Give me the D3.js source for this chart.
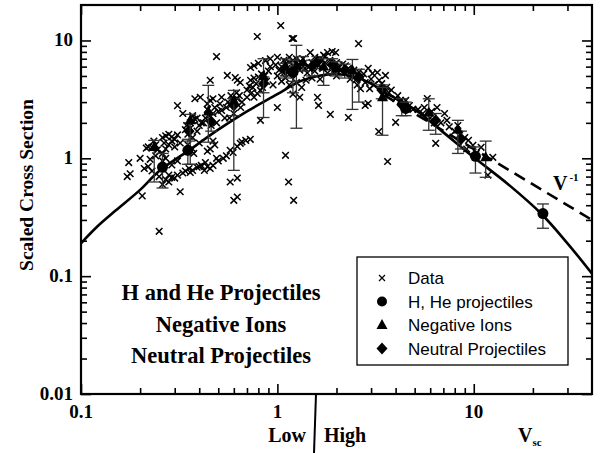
<!DOCTYPE html>
<html>
<head>
<meta charset="utf-8">
<script src="https://cdn.jsdelivr.net/npm/d3@7"></script>
<style>
    body { margin: 0; background: #fff; }
    svg text { font-family: "Liberation Serif", "Times New Roman", serif; font-weight: bold; fill: #000; }
    svg .legend text { font-family: "Liberation Sans", Arial, sans-serif; font-weight: normal; }
</style>
</head>
<body>
<svg id="chart" width="600" height="453"></svg>
<script>
// Data (V_sc, scaled cross section)
const dataPoints = [
    [0.175,0.92],[0.172,0.70],[0.178,0.74],[0.205,0.48],[0.25,0.24],
    [0.21,0.82],[0.22,0.85],[0.23,0.78],[0.2,1.0],
    [0.22,1.25],[0.215,1.22],[0.23,1.24],[0.24,1.3],[0.235,1.4],[0.245,1.18],[0.24,1.05],[0.225,0.98],
    [0.26,1.5],[0.27,1.55],[0.28,1.6],[0.29,1.52],[0.31,1.58],[0.3,1.45],[0.265,1.35],[0.28,1.3],
    [0.29,1.4],[0.27,1.2],[0.26,1.1],[0.3,1.25],[0.32,1.35],
    [0.31,2.8],[0.32,0.52],
    [0.28,0.72],[0.29,0.69],[0.30,0.68],[0.31,0.72],[0.27,0.66],[0.28,0.63],[0.26,0.6],[0.33,0.75],
    [0.26,0.95],[0.27,1.0],[0.29,0.88],[0.31,0.95],[0.25,0.7],
    [0.345,1.9],[0.36,2.0],[0.37,2.1],[0.38,2.15],[0.39,2.2],[0.35,1.6],[0.37,1.5],[0.34,1.75],
    [0.4,1.9],[0.41,2.0],[0.36,1.8],[0.39,1.7],
    [0.37,1.2],[0.375,1.1],[0.35,1.3],[0.4,1.35],
    [0.34,0.78],[0.355,0.82],[0.37,0.79],[0.39,0.84],[0.40,0.85],[0.41,0.87],[0.36,0.76],
    [0.38,3.2],[0.405,3.3],[0.37,2.3],[0.33,2.4],
    [0.44,2.9],[0.455,3.1],[0.47,3.2],[0.49,7.3],[0.455,4.6],
    [0.47,1.4],[0.455,1.2],[0.44,1.15],[0.48,1.3],
    [0.47,0.87],[0.455,0.82],[0.44,0.85],[0.425,0.79],[0.43,0.92],[0.5,0.95],[0.49,1.0],
    [0.45,2.3],[0.47,2.4],[0.43,2.2],[0.48,2.7],[0.5,2.5],[0.44,2.6],[0.46,1.9],[0.49,2.0],
    [0.51,2.9],[0.42,2.0],[0.52,3.3],
    [0.52,2.55],[0.55,2.7],[0.575,2.8],[0.60,3.1],[0.625,3.2],[0.56,3.0],[0.58,3.4],[0.62,3.6],
    [0.64,3.4],[0.66,3.0],[0.54,2.2],[0.6,2.4],[0.57,2.2],[0.65,2.7],
    [0.556,5.05],[0.625,4.6],[0.61,4.85],[0.647,4.4],
    [0.575,0.63],[0.625,0.68],[0.60,0.44],[0.625,0.47],
    [0.575,1.17],[0.595,1.12],[0.625,1.26],[0.647,1.34],[0.66,1.38],[0.69,1.42],[0.55,1.05],[0.53,1.0],
    [0.73,5.9],[0.76,6.1],[0.8,6.4],[0.79,10.8],[0.76,3.3],[0.79,3.55],[0.82,3.77],[0.82,2.1],
    [0.73,4.6],[0.76,4.8],[0.728,1.45],
    [0.7,3.8],[0.72,4.1],[0.75,4.0],[0.78,4.3],[0.8,4.9],[0.83,5.2],[0.86,5.0],[0.88,4.5],[0.9,5.5],
    [0.84,4.0],[0.7,3.3],[0.74,3.6],[0.92,6.0],[0.87,6.75],[0.92,7.0],[0.95,4.2],
    [1.0,7.2],[1.04,13.4],[1.19,10.4],[1.21,10.4],[1.1,1.06],[1.14,0.63],[1.21,0.44],[1.0,2.7],
    [1.0,5.0],[1.02,5.6],[1.05,6.0],[1.08,5.3],[1.1,6.3],[1.12,5.8],[1.15,6.5],[1.18,5.5],[1.2,6.8],
    [1.22,6.0],[1.25,7.0],[1.28,6.2],[1.3,5.6],[1.32,6.6],[1.35,7.0],[1.38,5.8],
    [1.05,4.5],[1.1,4.8],[1.15,4.2],[1.25,4.4],[1.3,3.3],[1.2,3.5],[1.33,4.0],[1.4,4.6],
    [1.08,6.8],[1.15,7.2],[0.98,6.2],
    [1.47,7.9],[1.72,7.5],[1.8,7.9],[1.9,8.05],[1.98,7.9],[1.6,3.29],[1.62,2.81],[1.86,2.36],
    [1.45,6.0],[1.5,6.5],[1.55,5.5],[1.6,6.2],[1.65,7.0],[1.7,5.8],[1.75,6.5],[1.8,5.3],[1.85,6.8],
    [1.9,6.0],[1.95,5.5],[2.0,6.5],[2.05,6.0],[2.1,5.6],[2.15,6.3],[1.5,4.8],[1.65,4.7],[1.55,7.2],
    [1.42,5.3],[2.0,5.0],[1.75,7.3],
    [2.59,9.4],[2.3,2.22],[2.8,2.81],[2.9,2.92],
    [2.22,6.1],[2.3,5.8],[2.9,5.8],[3.05,5.25],
    [2.4,5.0],[2.5,4.6],[2.6,5.4],[2.7,4.8],[2.55,4.2],[2.45,5.6],[2.8,4.4],[2.65,3.9],[2.35,4.7],
    [2.75,5.2],[3.0,4.7],[3.1,4.2],[2.95,3.9],
    [3.23,5.35],[3.55,5.05],[3.28,1.69],[3.64,0.94],[4.0,2.02],[3.4,4.3],[3.6,4.0],[3.7,3.6],[3.8,3.8],
    [4.0,3.22],[4.24,3.1],[4.1,3.4],[4.5,3.1],[4.7,2.8],[4.9,2.6],[3.5,3.6],[4.4,2.9],[3.3,4.6],
    [5.8,3.22],[6.5,2.7],[7.1,2.4],[6.4,1.34],[9.4,1.42],[9.9,1.29],[10.9,1.24],[12.5,1.02],[11.8,0.72],
    [5.2,2.6],[5.5,2.4],[6.0,2.2],[6.3,2.0],[6.8,2.0],[7.5,1.85],[8.0,1.7],[8.5,1.6],[9.0,1.5],
    [7.3,2.1],[5.6,2.7],[6.1,2.5],[8.3,1.9],[9.2,1.2],[10.3,1.1]
];

// [V_sc, value, error low, error high]
const hHeProjectiles = [
    [0.26,0.84,0.56,1.1],[0.35,1.17,0.89,1.45],[1.2,5.4,3.6,6.8],
    [4.5,2.65,2.3,3.0],[10.2,1.04,0.75,1.25],[22.5,0.34,0.255,0.41]
];
const negativeIons = [
    [0.236,1.25,0.63,1.42],[0.36,2.1,0.89,2.36],[0.445,2.5,1.37,4.16],[0.6,3.1,0.79,3.77],
    [0.85,5.0,2.22,7.0],[1.25,6.2,1.8,9.1],[1.72,6.0,4.16,7.0],[2.41,5.6,2.6,6.9],
    [3.43,3.3,1.57,4.0],[5.9,2.45,1.73,3.2],[8.3,1.76,1.1,2.1],[11.5,1.02,0.69,1.4],
    [1.1,6.0,5.0,7.0],[1.35,6.5,5.5,7.3],[2.0,5.8,5.0,6.6]
];
const neutralProjectiles = [
    [0.355,1.7,1.4,2.0],[0.46,2.05,1.7,2.4],[0.6,2.8,2.3,3.2],[0.85,4.3,3.6,4.9],
    [1.1,5.6,4.8,6.4],[1.5,6.0,5.0,6.8],[1.9,6.2,5.2,7.0],[2.6,4.9,3.0,5.7],
    [3.4,3.8,3.2,4.2],[4.3,2.85,2.3,3.2],[6.4,2.1,1.6,2.4],[8.6,1.45,1.2,1.7],
    [1.2,5.2,4.5,6.0],[1.6,6.6,5.8,7.3],[2.2,5.6,4.8,6.3]
];

// fitted curve
const curveV = [0.1,0.12,0.15,0.2,0.25,0.35,0.5,0.7,1.0,1.3,1.66,2.0,2.5,3.0,3.5,5,7,10,15,22,30,40];
const curveS = [0.19,0.26,0.36,0.54,0.78,1.15,1.75,2.5,3.5,4.5,5.05,5.2,4.9,4.3,3.65,2.6,1.66,1.02,0.6,0.34,0.19,0.105];
// V^-1 asymptote
const asymV = [3.5, 40];
const asymS = [3.43, 0.3];

const xMajor = [0.1, 1, 10];
const xMinor = [0.2,0.3,0.4,0.5,0.6,0.7,0.8,0.9,2,3,4,5,6,7,8,9,20,30];
const yMajor = [0.01, 0.1, 1, 10];
const yMinor = [0.02,0.03,0.04,0.05,0.06,0.07,0.08,0.09,0.2,0.3,0.4,0.5,0.6,0.7,0.8,0.9,2,3,4,5,6,7,8,9];
const xLabels = ["0.1", "1", "10"];
const yLabels = ["0.01", "0.1", "1", "10"];

const legendLabels = ["Data", "H, He projectiles", "Negative Ions", "Neutral Projectiles"];
const boxLines = ["H and He Projectiles", "Negative Ions", "Neutral Projectiles"];

const margin = {top: 5, right: 8, bottom: 59, left: 81};
const W = 600, H = 453;
const svg = d3.select("#chart");

const x = d3.scaleLog().domain([0.1, 40]).range([margin.left, W - margin.right]);
const y = d3.scaleLog().domain([0.01, 20]).range([H - margin.bottom, margin.top]);

const crossPath = "M-3.3,-3.3L3.3,3.3M-3.3,3.3L3.3,-3.3";
const trianglePath = "M0,-6L5.5,4L-5.5,4Z";
const diamondPath = "M0,-6L5.5,0L0,6L-5.5,0Z";

// ticks (all pointing inward)
function ticks(axisFn, vals, len, transform) {
    const g = svg.append("g")
        .attr("transform", transform)
        .call(axisFn.tickValues(vals).tickSize(-len).tickFormat(""));
    g.select(".domain").remove();
    g.selectAll("line").attr("stroke", "#000").attr("stroke-width", 1.6);
}
const bottomY = H - margin.bottom, rightX = W - margin.right;
ticks(d3.axisBottom(x), xMajor, 10, `translate(0,${bottomY})`);
ticks(d3.axisBottom(x), xMinor, 6, `translate(0,${bottomY})`);
ticks(d3.axisTop(x), xMajor, 10, `translate(0,${margin.top})`);
ticks(d3.axisTop(x), xMinor, 6, `translate(0,${margin.top})`);
ticks(d3.axisLeft(y), yMajor, 10, `translate(${margin.left},0)`);
ticks(d3.axisLeft(y), yMinor, 6, `translate(${margin.left},0)`);
ticks(d3.axisRight(y), yMajor, 10, `translate(${rightX},0)`);
ticks(d3.axisRight(y), yMinor, 6, `translate(${rightX},0)`);

// frame
svg.append("rect")
    .attr("x", margin.left).attr("y", margin.top)
    .attr("width", rightX - margin.left).attr("height", bottomY - margin.top)
    .attr("fill", "none").attr("stroke", "#000").attr("stroke-width", 2.2);

// tick labels
svg.append("g").selectAll("text")
    .data(xMajor)
    .join("text")
    .attr("x", d => x(d)).attr("y", bottomY + 24)
    .attr("text-anchor", "middle").attr("font-size", 19)
    .text((d, i) => xLabels[i]);
svg.append("g").selectAll("text")
    .data(yMajor)
    .join("text")
    .attr("x", margin.left - 8).attr("y", d => y(d) + 6)
    .attr("text-anchor", "end").attr("font-size", 19)
    .text((d, i) => yLabels[i]);

// y title
svg.append("text")
    .attr("transform", "translate(33,185) rotate(-90)")
    .attr("text-anchor", "middle").attr("font-size", 19.5)
    .text("Scaled Cross Section");

// Low | High  and V_sc
svg.append("line")
    .attr("x1", 316).attr("y1", bottomY).attr("x2", 314).attr("y2", H)
    .attr("stroke", "#000").attr("stroke-width", 2);
svg.append("text").attr("x", 306).attr("y", 442).attr("text-anchor", "end")
    .attr("font-size", 20).text("Low");
svg.append("text").attr("x", 324).attr("y", 442).attr("font-size", 20).text("High");
const vsc = svg.append("text").attr("x", 518).attr("y", 442).attr("font-size", 20);
vsc.append("tspan").text("V");
vsc.append("tspan").attr("font-size", 11).attr("dy", 4).text("sc");

// data crosses
svg.append("g").selectAll("path")
    .data(dataPoints)
    .join("path")
    .attr("transform", d => `translate(${x(d[0])},${y(d[1])})`)
    .attr("d", crossPath)
    .attr("stroke", "#000").attr("stroke-width", 1.5).attr("fill", "none");

// curve and asymptote
const line = d3.line().x(d => x(d[0])).y(d => y(d[1])).curve(d3.curveCatmullRom);
svg.append("path")
    .datum(curveV.map((v, i) => [v, curveS[i]]))
    .attr("d", line)
    .attr("fill", "none").attr("stroke", "#000").attr("stroke-width", 2.6);
svg.append("path")
    .datum(asymV.map((v, i) => [v, asymS[i]]))
    .attr("d", d3.line().x(d => x(d[0])).y(d => y(d[1])))
    .attr("fill", "none").attr("stroke", "#000").attr("stroke-width", 2.6)
    .attr("stroke-dasharray", "12,7");

// error bars + markers
function drawSeries(data, shape) {
    const g = svg.append("g");
    const eb = g.selectAll("g.eb").data(data).join("g").attr("class", "eb");
    eb.append("line")
        .attr("x1", d => x(d[0])).attr("x2", d => x(d[0]))
        .attr("y1", d => y(d[2])).attr("y2", d => y(d[3]));
    eb.append("line")
        .attr("x1", d => x(d[0]) - 6).attr("x2", d => x(d[0]) + 6)
        .attr("y1", d => y(d[2])).attr("y2", d => y(d[2]));
    eb.append("line")
        .attr("x1", d => x(d[0]) - 6).attr("x2", d => x(d[0]) + 6)
        .attr("y1", d => y(d[3])).attr("y2", d => y(d[3]));
    eb.selectAll("line").attr("stroke", "#333").attr("stroke-width", 1.3);
    if (shape === "circle") {
        g.selectAll("circle").data(data).join("circle")
            .attr("cx", d => x(d[0])).attr("cy", d => y(d[1])).attr("r", 5.5).attr("fill", "#000");
    } else {
        g.selectAll("path.m").data(data).join("path").attr("class", "m")
            .attr("transform", d => `translate(${x(d[0])},${y(d[1])})`)
            .attr("d", shape).attr("fill", "#000");
    }
}
drawSeries(neutralProjectiles, diamondPath);
drawSeries(negativeIons, trianglePath);
drawSeries(hHeProjectiles, "circle");

// V^-1 label
const vl = svg.append("text").attr("x", 553).attr("y", 190).attr("font-size", 20);
vl.append("tspan").text("V");
vl.append("tspan").attr("font-size", 11).attr("dy", -9).attr("dx", 2).text("-1");

// text block
svg.append("g").selectAll("text")
    .data(boxLines)
    .join("text")
    .attr("x", 221).attr("y", (d, i) => 300 + i * 31.5)
    .attr("text-anchor", "middle").attr("font-size", 22.5)
    .text(d => d);

// legend
const legend = svg.append("g").attr("class", "legend");
legend.append("rect")
    .attr("x", 357).attr("y", 257).attr("width", 211).attr("height", 108)
    .attr("fill", "#fff").attr("stroke", "#000").attr("stroke-width", 1.3);
const shapes = [crossPath, "circle", trianglePath, diamondPath];
const items = legend.selectAll("g.item").data(legendLabels).join("g").attr("class", "item")
    .attr("transform", (d, i) => `translate(382,${278 + i * 23.5})`);
items.each(function (d, i) {
    const it = d3.select(this);
    if (shapes[i] === "circle") {
        it.append("circle").attr("r", 5).attr("fill", "#000");
    } else if (i === 0) {
        it.append("path").attr("d", "M-3,-3L3,3M-3,3L3,-3").attr("stroke", "#000").attr("stroke-width", 1.2);
    } else {
        it.append("path").attr("d", shapes[i]).attr("fill", "#000");
    }
    it.append("text").attr("x", 26).attr("y", 6).attr("font-size", 17).text(d);
});
</script>
</body>
</html>
